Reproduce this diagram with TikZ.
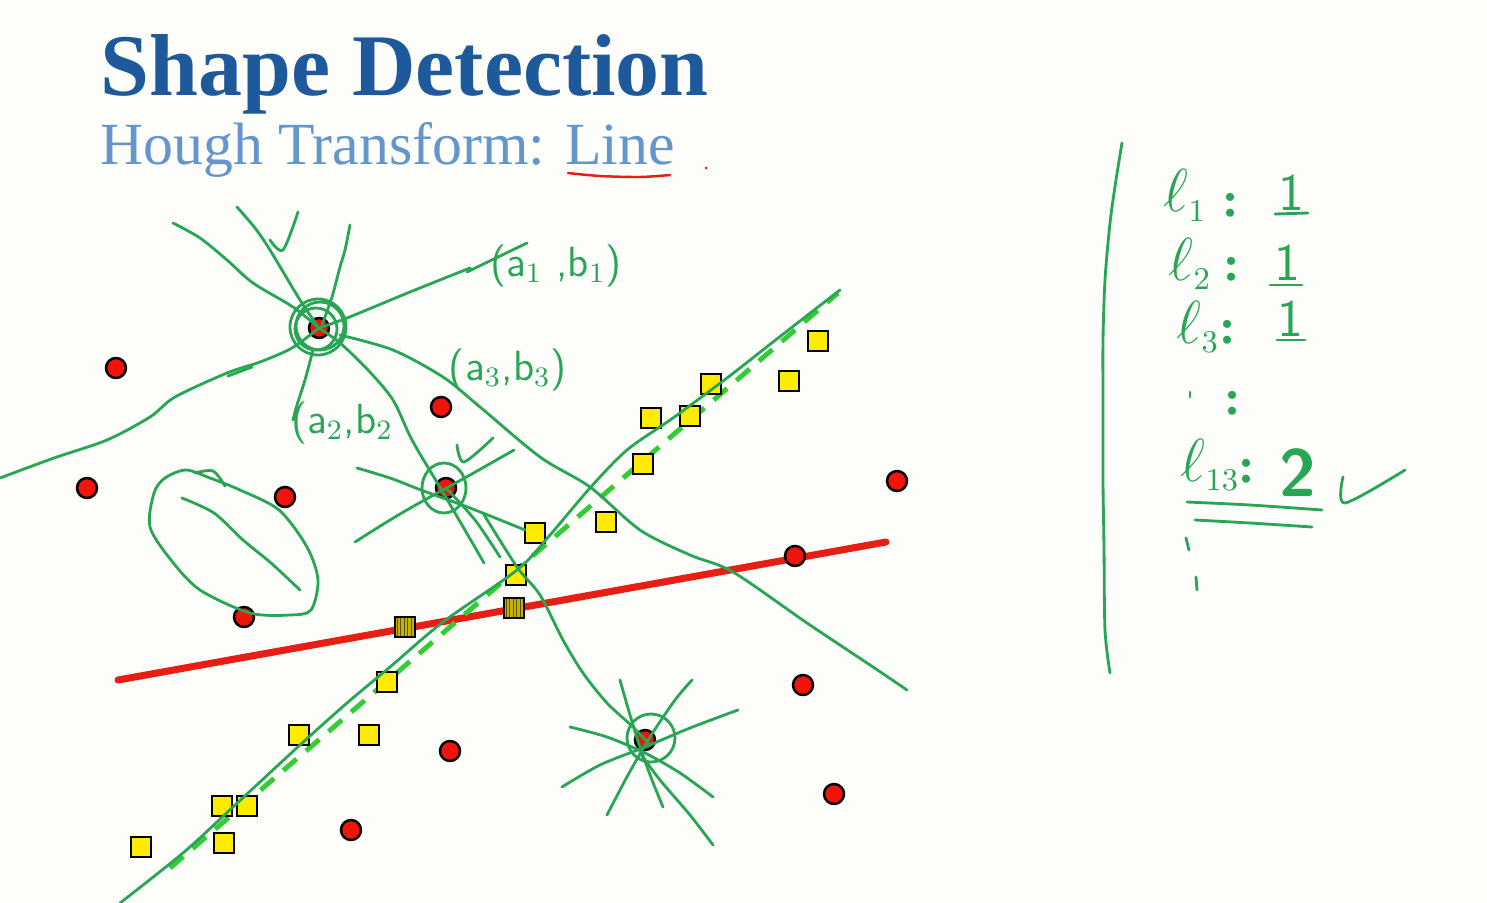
\documentclass[tikz,border=0pt]{standalone}
\usepackage{fontspec}
\setmainfont{Liberation Serif}
\usetikzlibrary{patterns.meta}
\definecolor{bgc}{RGB}{253,253,250}
\definecolor{titleblue}{RGB}{30,90,155}
\definecolor{subblue}{RGB}{100,150,205}
\definecolor{inkgreen}{RGB}{40,165,85}
\definecolor{brightgreen}{RGB}{50,205,50}
\definecolor{redline}{RGB}{230,30,20}
\definecolor{dotred}{RGB}{240,20,10}
\definecolor{sqyel}{RGB}{255,235,0}
\definecolor{sqdark}{RGB}{195,178,10}

\begin{document}
\begin{tikzpicture}[x=0.01cm,y=-0.01cm,
  pen/.style={draw=inkgreen, line width=0.8pt, line cap=round, line join=round},
  inkred/.style={draw=redline, line width=0.7pt, line cap=round},
  pt/.style={circle, fill=dotred, draw=black, line width=0.7pt, minimum size=0.2cm, inner sep=0pt},
  sq/.style={rectangle, fill=sqyel, draw=black, line width=0.8pt, minimum size=0.2cm, inner sep=0pt},
  sqd/.style={rectangle, draw=black, line width=0.8pt, minimum size=0.2cm, inner sep=0pt,
    preaction={fill=sqdark}, pattern={Lines[angle=90,distance=1pt,line width=0.3pt]}, pattern color=black!55!sqdark},
  hand/.style={text=inkgreen, inner sep=0pt, font=\sffamily\fontsize{12pt}{14pt}\selectfont},
  tally/.style={text=inkgreen, inner sep=0pt, font=\fontsize{19pt}{22pt}\selectfont},
  tsep/.style={text=inkgreen, inner sep=0pt, font=\bfseries\fontsize{14pt}{16pt}\selectfont},
  tval/.style={text=inkgreen, inner sep=0pt, font=\sffamily\fontsize{15pt}{18pt}\selectfont},
]
\useasboundingbox (0,0) rectangle (1487,903);
\fill[bgc] (0,0) rectangle (1487,903);

% headings
\node[anchor=base west, inner sep=0pt, text=titleblue, font=\bfseries\fontsize{25pt}{30pt}\selectfont] (title) at (100,95) {Shape Detection};
\node[anchor=base west, inner sep=0pt, text=subblue, font=\fontsize{17pt}{20pt}\selectfont] (subtitle) at (100,164) {Hough Transform: Line};
\draw[inkred] plot[smooth] coordinates {(568,173) (600,176) (640,177) (670,175)};
\fill[redline] (706,168) circle[radius=1.5];

% fitted lines
\draw[redline, line width=2pt, line cap=round] (118,680) -- (886,542);
\draw[brightgreen, line width=1.4pt, dash pattern=on 5pt off 3.5pt] (170,868) -- (838,293);

% data points
\foreach \n/\x/\y in {1/116/368, 2/87/488, 3/285/497, 4/244/617, 5/441/407, 6/446/488, 7/319/328,
  8/897/481, 9/795/556, 10/803/685, 11/450/751, 12/351/830, 13/834/794, 14/645/740}
  \node[pt] (p\n) at (\x,\y) {};
\foreach \n/\x/\y in {1/818/341, 2/789/381, 3/711/384, 4/651/418, 5/690/416, 6/643/464, 7/606/522,
  8/535/533, 9/516/575, 10/387/682, 11/299/735, 12/369/735, 13/222/806, 14/247/806, 15/224/843, 16/141/847}
  \node[sq] (s\n) at (\x,\y) {};
\node[sqd] (sd1) at (514,608) {};
\node[sqd] (sd2) at (405,627) {};

% hand-drawn line through the squares
\draw[pen] plot[smooth] coordinates {(120,903) (183,853) (233,807) (300,745) (347,703) (390,667) (443,622)
  (517,570) (550,535) (590,488) (627,450) (673,418) (727,378) (773,342) (840,290)};

% pencil of lines through the first point
\draw[pen] (318,327) circle[radius=28];
\draw[pen] (320,326) circle[radius=24];
\draw[pen] (316,329) circle[radius=21];
\draw[pen] plot[smooth] coordinates {(173,223) (200,238) (227,260) (253,283) (293,307) (319,328)};
\draw[pen] plot[smooth] coordinates {(237,207) (255,228) (270,250) (300,300) (319,328)};
\draw[pen] plot[smooth] coordinates {(270,240) (283,250) (298,212)};
\draw[pen] plot[smooth] coordinates {(350,225) (345,250) (340,267) (332,297) (322,325)};
\draw[pen] plot[smooth] coordinates {(319,328) (347,318) (410,292) (470,268)};
\draw[pen] (467,272) -- (527,243);
\draw[pen] plot[smooth] coordinates {(0,478) (54,458) (107,440) (150,417) (175,397) (227,373) (260,362) (292,348) (319,328)};
\draw[pen] (228,376) -- (252,367);
\draw[pen] plot[smooth] coordinates {(313,350) (305,380) (297,405) (293,420)};
\draw[pen] plot[smooth] coordinates {(319,328) (340,343) (368,370) (393,400) (412,440) (438,484) (462,525) (484,563)};
\draw[pen] plot[smooth] coordinates {(340,335) (393,350) (443,377) (480,407) (540,457) (590,487) (640,530)
  (690,555) (733,572) (807,623) (873,667) (907,690)};

% pencil of lines through the second point
\draw[pen] (444,488) circle[x radius=22, y radius=25];
\draw[pen] plot[smooth] coordinates {(357,468) (390,478) (421,490) (470,508) (525,530)};
\draw[pen] plot[smooth] coordinates {(355,542) (390,520) (421,502) (470,475) (514,450)};
\draw[pen] plot[smooth] coordinates {(446,488) (475,520) (500,557)};
\draw[pen] plot[smooth] coordinates {(457,445) (464,462) (493,438)};
\draw[pen] plot[smooth] coordinates {(483,513) (517,567) (540,595) (563,640) (583,673) (607,703) (633,727) (650,745)};

% pencil of lines through the third point
\draw[pen] (651,738) circle[radius=24];
\draw[pen] plot[smooth] coordinates {(570,727) (607,737) (645,753) (680,773) (713,797)};
\draw[pen] plot[smooth] coordinates {(562,787) (600,765) (645,747) (690,728) (738,710)};
\draw[pen] plot[smooth] coordinates {(620,680) (630,715) (640,747) (652,780) (663,807)};
\draw[pen] plot[smooth] coordinates {(692,680) (675,700) (650,737) (628,775) (607,815)};
\draw[pen] plot[smooth] coordinates {(640,753) (660,780) (690,815) (713,845)};

% loop around the collinear pair
\draw[pen] plot[smooth cycle] coordinates {(186,470) (165,478) (154,493) (150,527) (171,560) (200,590)
  (250,613) (290,615) (311,610) (318,580) (307,547) (279,510) (240,490) (210,478)};
\draw[pen] plot[smooth] coordinates {(195,473) (213,471) (225,486)};
\draw[pen] plot[smooth] coordinates {(182,498) (214,513) (243,540) (271,563) (300,590)};

% parameter labels
\node[hand] (lab1) at (556,266) {(a$_1$ ,b$_1$)};
\node[hand] (lab3) at (508,370) {(a$_3$,b$_3$)};
\node[hand] (lab2) at (342,423) {(a$_2$,b$_2$};

% accumulator tally
\draw[pen] plot[smooth] coordinates {(1122,143) (1116,180) (1110,223) (1105,280) (1103,340) (1103,400)
  (1103,480) (1104,547) (1105,630) (1110,673)};
\node[tally, anchor=base west] (l1) at (1163,212) {$\ell_{\scriptscriptstyle 1}$};
\node[tsep, anchor=base] (c1) at (1231,216) {:};
\node[tval, anchor=base] (v1) at (1291,210) {1};
\draw[pen] (1275,214) -- (1308,213);
\node[tally, anchor=base west] (l2) at (1168,280) {$\ell_{\scriptscriptstyle 2}$};
\node[tsep, anchor=base] (c2) at (1232,280) {:};
\node[tval, anchor=base] (v2) at (1287,280) {1};
\draw[pen] (1270,285) -- (1302,285);
\node[tally, anchor=base west] (l3) at (1176,343) {$\ell_{\scriptscriptstyle 3}$};
\node[tsep, anchor=base] (c3) at (1228,343) {:};
\node[tval, anchor=base] (v3) at (1290,336) {1};
\draw[pen] (1277,340) -- (1305,340);
\node[tsep, anchor=base] (e1) at (1233,414) {:};
\draw[pen] (1190,392) -- (1190,397);
\node[tally, anchor=base west] (l13) at (1180,481) {$\ell_{\scriptscriptstyle 13}$};
\node[tsep, anchor=base] (c13) at (1247,482) {:};
\node[text=inkgreen, inner sep=0pt, font=\sffamily\bfseries\fontsize{19pt}{22pt}\selectfont, anchor=base] (v13) at (1298,496) {2};
\draw[pen] plot[smooth] coordinates {(1187,502) (1250,505) (1322,510)};
\draw[pen] plot[smooth] coordinates {(1195,520) (1250,523) (1312,527)};
\draw[pen] plot[smooth] coordinates {(1343,477) (1345,503) (1405,470)};
\draw[pen] (1186,538) -- (1189,550);
\draw[pen] (1196,577) -- (1197,590);
\end{tikzpicture}
\end{document}
